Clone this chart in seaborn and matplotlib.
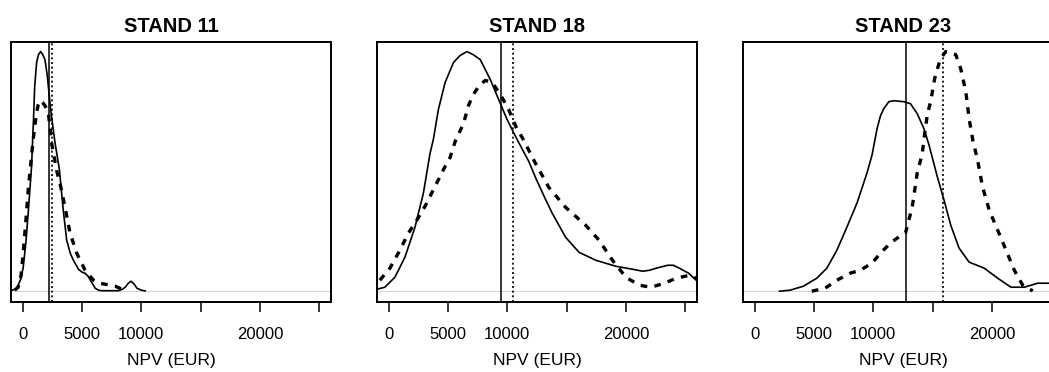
import numpy as np
import pandas as pd
import matplotlib
matplotlib.use("Agg")
import matplotlib.pyplot as plt
import seaborn as sns

# relative density heights (no y scale is shown)
titles = ["STAND 11", "STAND 18", "STAND 23"]

s11_x = [-950, -600, -395, -150, 30, 250, 450, 735, 875, 1000, 1160, 1320, 1500, 1680,
         1865, 2060, 2345, 2710, 3080, 3420, 3700, 4000, 4265, 4690, 5000, 5250, 5500,
         5800, 6100, 6400, 6670, 7500, 8050, 8400, 8640, 8900, 9125, 9400, 9630, 10000,
         10340]
s11_y = [1, 2, 6, 13, 24, 48, 78, 125, 165, 205, 229, 237, 240, 237,
         232, 216, 182, 149, 122, 80, 51, 38, 31, 22, 19, 18, 15,
         9, 3, 1, 0.5, 0.5, 0.5, 2, 4, 8, 10, 7, 3, 1,
         0.3]
d11_x = [-680, -395, -150, 30, 250, 450, 735, 875, 1015, 1160, 1300, 1440, 1650, 1865,
         2150, 2290, 2430, 2710, 2850, 3135, 3560, 3985, 4550, 5250, 5960, 6450, 6950,
         7800, 8350]
d11_y = [1, 4, 16, 38, 70, 101, 136, 152, 166, 179, 187, 191, 189, 186,
         179, 164, 148, 130, 121, 108, 84, 58, 38, 21, 11, 8, 7,
         5, 2]

s18_x = [-1000, -340, 510, 1355, 2200, 2910, 3475, 3755, 4180, 4745, 5450, 6000, 6585,
         7100, 7710, 8560, 9265, 9975, 10820, 11805, 12370, 13100, 13790, 14915, 16045,
         17460, 19150, 20570, 21415, 22000, 22545, 23530, 24000, 24520, 25300, 25930]
s18_y = [2, 4, 14, 34, 64, 98, 138, 152, 182, 209, 229, 236, 240,
         237, 232, 212, 192, 172, 152, 130, 114, 95, 78, 54, 39,
         31, 25, 22, 20, 21, 23, 26, 26, 23, 18, 11]
d18_x = [-760, 85, 930, 1640, 2350, 3050, 3900, 4745, 5170, 5595, 6300, 6720, 7010,
         7290, 7700, 8135, 8560, 8840, 9410, 10110, 10820, 11250, 12375, 13500, 14915,
         16610, 17740, 18870, 20000, 21130, 22120, 23250, 24240, 25370, 25930]
d18_y = [11, 23, 41, 58, 71, 85, 105, 125, 134, 150, 168, 186, 194,
         200, 207, 211, 210, 207, 197, 182, 162, 154, 128, 104, 84,
         66, 51, 31, 14, 6, 4, 8, 13, 16, 13]

s23_x = [2060, 2965, 4095, 5230, 6075, 6925, 7770, 8620, 9465, 9890, 10310, 10600, 10875,
         11300, 11725, 12570, 13135, 13700, 14270, 14690, 15400, 15960, 16525, 17230,
         18080, 19350, 20485, 21610, 22740, 23875, 24915, 25800]
s23_y = [0, 1, 5, 13, 23, 41, 64, 88, 118, 136, 162, 175, 182,
         189, 190, 189, 187, 177, 162, 146, 114, 91, 66, 43,
         29, 23, 13, 4, 4, 8, 8, 5]
d23_x = [4805, 5930, 6925, 8050, 8900, 9890, 10600, 11440, 12010, 12710, 13280, 13700,
         14125, 14270, 14550, 14830, 15170, 15535, 15800, 16100, 16400, 16950, 17370,
         17800, 18080, 18400, 18790, 19215, 19770, 20485, 21190, 21890, 22600, 23450]
d23_y = [0, 3, 11, 18, 21, 28, 38, 48, 53, 58, 84, 118,
         137, 152, 176, 189, 212, 227, 234, 239, 238, 236, 222,
         199, 172, 150, 131, 104, 81, 61, 41, 21, 6, 0.3]

solid_x = [s11_x, s18_x, s23_x]
solid_y = [s11_y, s18_y, s23_y]
dashed_x = [d11_x, d18_x, d23_x]
dashed_y = [d11_y, d18_y, d23_y]
vline_solid = [2200, 9450, 12750]
vline_dotted = [2430, 10480, 15900]

tick_pos = [0, 5000, 10000, 15000, 20000, 25000]
tick_lab = ["0", "5000", "10000", "", "20000", ""]

sns.set_style("white")
plt.rcParams["font.family"] = ["Liberation Sans", "DejaVu Sans"]
plt.rcParams["text.color"] = "black"
plt.rcParams["axes.labelcolor"] = "black"
plt.rcParams["xtick.color"] = "black"
plt.rcParams["lines.solid_joinstyle"] = "round"

fig = plt.figure(figsize=(10.49, 3.72), dpi=100)
W, H = 1049, 372
lefts = [11, 377, 743]

for i in range(3):
    ax = fig.add_axes([lefts[i] / W, (H - 302) / H, 320 / W, 260 / H])
    ax.axhline(0, color="#d4d4d4", lw=0.8, zorder=1)
    sdf = pd.DataFrame({"x": solid_x[i], "y": solid_y[i]})
    ddf = pd.DataFrame({"x": dashed_x[i], "y": dashed_y[i]})
    sns.lineplot(data=sdf, x="x", y="y", ax=ax, color="black", lw=1.2,
                 sort=False, estimator=None)
    sns.lineplot(data=ddf, x="x", y="y", ax=ax, color="black", lw=2.4,
                 linestyle=(0, (2.0, 2.2)), sort=False, estimator=None)
    ax.axvline(vline_solid[i], color="black", lw=1.1)
    ax.axvline(vline_dotted[i], color="black", lw=1.2, linestyle=(0, (1.2, 1.6)))

    ymax = max(max(solid_y[i]), max(dashed_y[i]))
    ax.set_ylim(-0.045 * ymax, 1.04 * ymax)
    ax.set_xlim(-1000, 26000)
    ax.set_yticks([])
    ax.set_xticks(tick_pos)
    ax.set_xticklabels(tick_lab, fontsize=12)
    ax.tick_params(axis="x", direction="out", length=7, width=1.1, pad=11,
                   bottom=True, color="black", labelcolor="black")
    ax.set_xlabel("NPV (EUR)", fontsize=12.5, labelpad=8)
    ax.set_ylabel("")
    ax.set_title(titles[i], fontsize=14.5, fontweight="bold", pad=7)
    for sp in ax.spines.values():
        sp.set_visible(True)
        sp.set_color("black")
        sp.set_linewidth(1.4)

fig.savefig("out.png", dpi=100)
